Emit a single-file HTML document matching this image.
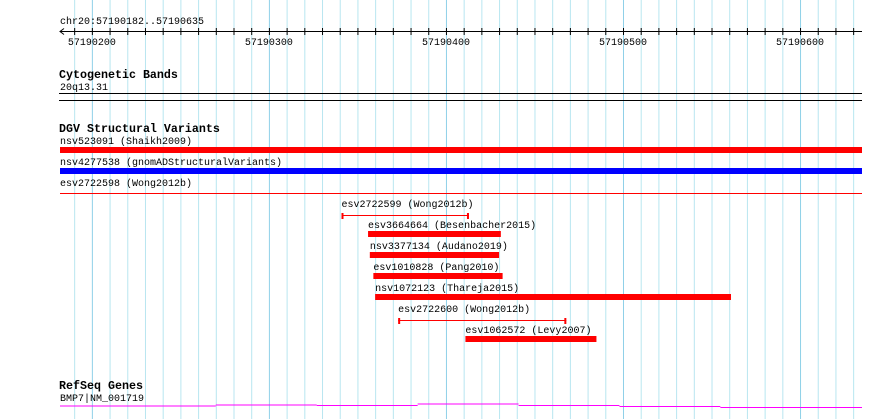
<!DOCTYPE html>
<html><head><meta charset="utf-8"><style>
html,body{margin:0;padding:0;background:#fff;}
svg{display:block;font-family:"Liberation Mono","DejaVu Sans Mono",monospace;}
.t{font-size:10px;fill:#000;}
.h{font-size:11.67px;font-weight:bold;fill:#000;}
</style></head><body>
<svg id="c" width="890" height="419" viewBox="0 0 890 419" xmlns="http://www.w3.org/2000/svg">
<g id="grid"></g>
<g id="ruler"></g>
<text class="t" x="60" y="24">chr20:57190182..57190635</text>
<text class="h" x="59" y="78">Cytogenetic Bands</text>
<text class="t" x="60" y="90">20q13.31</text>
<line x1="59" x2="862" y1="93.5" y2="93.5" stroke="#000"/>
<line x1="59" x2="862" y1="100.5" y2="100.5" stroke="#000"/>
<text class="h" x="59" y="132">DGV Structural Variants</text>
<g id="feats"></g>
<text class="h" x="59" y="389">RefSeq Genes</text>
<text class="t" x="60" y="401">BMP7|NM_001719</text>
<g id="gene"></g>
</svg>
<script>
const viewStart = 57190182;
const viewEnd = 57190635;
const tickLabels = [57190200, 57190300, 57190400, 57190500, 57190600];
const featNames = ["nsv523091 (Shaikh2009)","nsv4277538 (gnomADStructuralVariants)","esv2722598 (Wong2012b)","esv2722599 (Wong2012b)","esv3664664 (Besenbacher2015)","nsv3377134 (Audano2019)","esv1010828 (Pang2010)","nsv1072123 (Thareja2015)","esv2722600 (Wong2012b)","esv1062572 (Levy2007)"];
const featStart = [57190182,57190182,57190182,57190341,57190356,57190357,57190359,57190360,57190373,57190411];
const featEnd = [57190635,57190635,57190635,57190413,57190431,57190430,57190432,57190561,57190468,57190485];
const featType = ["bar-red","bar-blue","thin","range","bar-red","bar-red","bar-red","bar-red","range","bar-red"];
const geneStart = [57190182,57190270,57190327,57190384,57190441,57190498,57190555];
const geneLevel = [406,405,405.5,404,405.5,406.5,407.5];

const NS="http://www.w3.org/2000/svg";
const x0=60, x1=862;
function xs(bp){return x0+(bp-viewStart)*(x1-x0)/(viewEnd-viewStart);}
function mk(tag,attrs,parent){const e=document.createElementNS(NS,tag);for(const k in attrs)e.setAttribute(k,attrs[k]);parent.appendChild(e);return e;}

const grid=document.getElementById('grid');
for(let bp=Math.ceil(viewStart/10)*10; bp<=viewEnd; bp+=10){
  const major=bp%100===0;
  const l=mk('line',{x1:xs(bp)+.5,x2:xs(bp)+.5,y1:0,y2:419,stroke:major?'#8fd0e8':'#b8e6f0'},grid);
  
  
}
const ruler=document.getElementById('ruler');
const rl=mk('line',{x1:x0,x2:x1,y1:31.5,y2:31.5,stroke:'#000'},ruler);


const ar=mk('path',{d:'M64 28.5 L60 31.5 L64 34.5',fill:'none',stroke:'#000'},ruler);


for(let bp=Math.ceil(viewStart/10)*10; bp<=viewEnd; bp+=10){
  const t=mk('line',{x1:xs(bp)+.5,x2:xs(bp)+.5,y1:28,y2:35,stroke:'#000'},ruler);
  
  
}
tickLabels.forEach(v=>{
  const t=mk('text',{x:xs(v)-24,y:45,class:'t'},ruler);
  t.textContent=String(v);
  
  
});

const feats=document.getElementById('feats');
featNames.forEach((n,i)=>{
  const top=140+i*21;
  const a=xs(featStart[i]), b=xs(featEnd[i]);
  const g=mk('g',{},feats);
  
  
  const t=mk('text',{x:a,y:top+4,class:'t'},g);
  t.textContent=n;
  const ty=featType[i];
  if(ty==='bar-red'||ty==='bar-blue'){
    mk('rect',{x:a,y:top+7,width:b-a,height:6,fill:ty==='bar-red'?'#ff0000':'#0000ff'},g);
  }else if(ty==='thin'){
    mk('line',{x1:a,x2:b,y1:top+11.5,y2:top+11.5,stroke:'#ff0000'},g);
  }else{
    mk('line',{x1:a,x2:b,y1:top+12.5,y2:top+12.5,stroke:'#ff0000'},g);
    mk('rect',{x:a,y:top+10,width:2,height:6,fill:'#ff0000'},g);
    mk('rect',{x:b-2,y:top+10,width:2,height:6,fill:'#ff0000'},g);
  }
});

const gene=document.getElementById('gene');
geneStart.forEach((s,i)=>{
  const e=i+1<geneStart.length?geneStart[i+1]:viewEnd;
  const l=mk('line',{x1:xs(s),x2:xs(e),y1:geneLevel[i],y2:geneLevel[i],stroke:'#ff00ff'},gene);
  
  
});
</script>
</body></html>
